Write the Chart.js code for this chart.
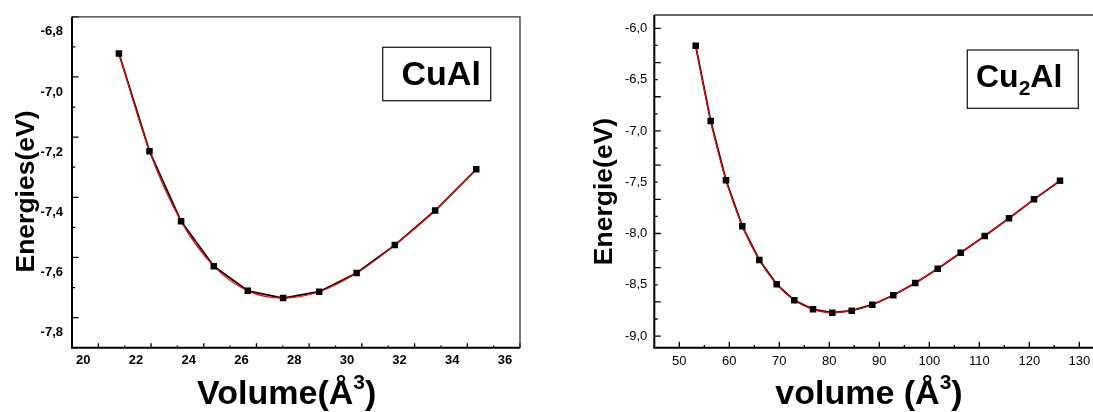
<!DOCTYPE html>
<html>
<head>
<meta charset="utf-8">
<script src="https://cdn.jsdelivr.net/npm/chart.js@4.4.0/dist/chart.umd.min.js"></script>
<style>
  html, body { margin: 0; padding: 0; background: #fff; overflow: hidden; width: 1093px; height: 412px; }
  .panel { position: absolute; top: 0; height: 412px; }
  #left { left: 0; width: 540px; }
  #right { left: 540px; width: 580px; }
</style>
</head>
<body>
<div class="panel" id="left"><canvas id="cual"></canvas></div>
<div class="panel" id="right"><canvas id="cu2al"></canvas></div>
<script>
// CuAl: volume (Å^3) vs energy (eV)
const cuAlVolume = [20.78, 21.94, 23.14, 24.38, 25.67, 27.01, 28.38, 29.80, 31.25, 32.78, 34.34];
const cuAlEnergy = [-6.922, -7.247, -7.480, -7.629, -7.711, -7.735, -7.714, -7.652, -7.559, -7.444, -7.307];
const cuAlXLabels = [20, 22, 24, 26, 28, 30, 32, 34, 36];
const cuAlYLabels = [-6.8, -7.0, -7.2, -7.4, -7.6, -7.8];

// Cu2Al
const cu2AlVolume = [53.28, 56.28, 59.34, 62.60, 66.00, 69.48, 73.00, 76.74, 80.60, 84.48, 88.60, 92.80, 97.20, 101.68, 106.28, 111.08, 115.94, 120.94, 126.14];
const cu2AlEnergy = [-6.170, -6.904, -7.481, -7.930, -8.258, -8.495, -8.651, -8.739, -8.772, -8.752, -8.694, -8.602, -8.482, -8.343, -8.187, -8.024, -7.852, -7.667, -7.485];
const cu2AlXLabels = [50, 60, 70, 80, 90, 100, 110, 120, 130];
const cu2AlYLabels = [-6.0, -6.5, -7.0, -7.5, -8.0, -8.5, -9.0];

const FONT = "'Liberation Sans', Arial, sans-serif";

function hasLabel(list, v) {
  return list.some(l => Math.abs(l - v) < 1e-6);
}

// tick marks k/div for k = from..to (integers), long ones flagged as major
function tickList(from, to, div, isLong) {
  const out = [];
  for (let k = from; k <= to; k++) out.push({value: k / div, major: isLong(k, k / div)});
  return out;
}

function drawParts(ctx, parts, x, y) {
  parts.forEach(p => {
    ctx.font = 'bold ' + p.size + 'px ' + FONT;
    ctx.fillText(p.t, x, y + (p.dy || 0));
    x += ctx.measureText(p.t).width;
  });
}

function partsWidth(ctx, parts) {
  let w = 0;
  parts.forEach(p => {
    ctx.font = 'bold ' + p.size + 'px ' + FONT;
    w += ctx.measureText(p.t).width;
  });
  return w;
}

// frame, inward ticks, titles and the compound label box
const decor = {
  id: 'decor',
  afterDraw(chart, args, o) {
    const ctx = chart.ctx;
    const a = chart.chartArea;
    const x = chart.scales.x, y = chart.scales.y;
    ctx.save();
    ctx.strokeStyle = '#000';
    ctx.lineWidth = 1.3;
    ctx.beginPath();
    x.ticks.forEach(t => {
      const px = x.getPixelForValue(t.value);
      const len = t.major ? o.xTick[0] : o.xTick[1];
      ctx.moveTo(px, a.bottom);
      ctx.lineTo(px, a.bottom - len);
    });
    y.ticks.forEach(t => {
      const py = y.getPixelForValue(t.value);
      const len = t.major ? o.yTick[0] : o.yTick[1];
      ctx.moveTo(a.left, py);
      ctx.lineTo(a.left + len, py);
    });
    ctx.stroke();

    // top/right thin, left/bottom thick
    ctx.strokeStyle = '#333';
    ctx.lineWidth = 1.3;
    ctx.beginPath();
    ctx.moveTo(a.left, a.top);
    ctx.lineTo(a.right, a.top);
    ctx.lineTo(a.right, a.bottom);
    ctx.stroke();
    ctx.strokeStyle = '#000';
    ctx.lineWidth = 2;
    ctx.beginPath();
    ctx.moveTo(a.left, a.top);
    ctx.lineTo(a.left, a.bottom);
    ctx.lineTo(a.right, a.bottom);
    ctx.stroke();

    ctx.fillStyle = '#000';
    // y title
    ctx.save();
    ctx.translate(o.yTitle.x, o.yTitle.y);
    ctx.rotate(-Math.PI / 2);
    ctx.textAlign = 'center';
    ctx.textBaseline = 'alphabetic';
    ctx.font = 'bold ' + o.yTitle.size + 'px ' + FONT;
    ctx.fillText(o.yTitle.text, 0, 0);
    ctx.restore();

    // x title with superscript
    ctx.textAlign = 'left';
    ctx.textBaseline = 'alphabetic';
    const w = partsWidth(ctx, o.xTitle.parts);
    drawParts(ctx, o.xTitle.parts, o.xTitle.x - w / 2, o.xTitle.y);

    // compound box
    const b = o.box;
    ctx.strokeStyle = '#222';
    ctx.lineWidth = 1.3;
    ctx.strokeRect(b.x, b.y, b.w, b.h);
    drawParts(ctx, b.parts, b.tx, b.ty);
    ctx.restore();
  }
};

function panel(id, c) {
  const pts = c.xs.map((v, i) => ({x: v, y: c.ys[i]}));
  const tickFont = {family: FONT, size: 13, weight: c.tickBold ? 'bold' : 'normal'};
  return new Chart(document.getElementById(id), {
    type: 'line',
    data: {
      datasets: [
        {data: pts, showLine: false, pointStyle: 'rect', pointRadius: 4.6,
         pointBackgroundColor: '#000', pointBorderColor: '#000', pointBorderWidth: 0, order: 0},
        {data: pts, borderColor: '#ff0000', borderWidth: 1.2, pointRadius: 0,
         cubicInterpolationMode: 'monotone', order: 1},
        {data: pts, borderColor: '#000', borderWidth: 1.8, pointRadius: 0, tension: 0, order: 2}
      ]
    },
    options: {
      responsive: true,
      maintainAspectRatio: false,
      animation: false,
      devicePixelRatio: 1,
      layout: {padding: c.padding},
      plugins: {
        legend: {display: false},
        tooltip: {enabled: false},
        decor: c.decor
      },
      scales: {
        x: {
          type: 'linear', min: c.xMin, max: c.xMax,
          grid: {display: false, drawTicks: false},
          border: {display: false},
          afterBuildTicks: s => { s.ticks = c.xTicks; },
          ticks: {
            autoSkip: false, maxRotation: 0, padding: c.xPad,
            labelOffset: c.xLabelOffset, color: '#000', font: tickFont,
            callback: v => hasLabel(c.xLabels, v) ? String(Math.round(v)) : ''
          },
          afterFit: s => { s.height = c.xHeight; }
        },
        y: {
          type: 'linear', min: c.yMin, max: c.yMax,
          grid: {display: false, drawTicks: false},
          border: {display: false},
          afterBuildTicks: s => { s.ticks = c.yTicks; },
          ticks: {
            autoSkip: false, padding: c.yPad,
            labelOffset: c.yLabelOffset, color: '#000', font: tickFont,
            callback: v => hasLabel(c.yLabels, v) ? v.toFixed(1).replace('.', ',') : ''
          },
          afterFit: s => { s.width = c.yWidth; }
        }
      }
    },
    plugins: [decor]
  });
}

panel('cual', {
  xs: cuAlVolume, ys: cuAlEnergy, xLabels: cuAlXLabels, yLabels: cuAlYLabels,
  xMin: 19, xMax: 36, yMin: -7.9, yMax: -6.8,
  xTicks: tickList(19, 36, 1, (k, v) => hasLabel(cuAlXLabels, v)),
  yTicks: tickList(-79, -68, 10, (k, v) => hasLabel(cuAlYLabels, v)),
  tickBold: true, xPad: 5, yPad: 9, xLabelOffset: -15, yLabelOffset: 15,
  xHeight: 64.3, yWidth: 72,
  padding: {left: 0, top: 15.7, right: 20, bottom: 0},
  decor: {
    xTick: [4.5, 2.2], yTick: [6.5, 3.3],
    yTitle: {text: 'Energies(eV)', size: 26.5, x: 34, y: 191.5},
    xTitle: {x: 286.7, y: 403.5, parts: [{t: 'Volume(Å', size: 34}, {t: '3', size: 21, dy: -15}, {t: ')', size: 34}]},
    box: {x: 382.7, y: 47.3, w: 108, h: 53.4, tx: 401.5, ty: 85,
          parts: [{t: 'CuAl', size: 34}]}
  }
});

panel('cu2al', {
  xs: cu2AlVolume, ys: cu2AlEnergy, xLabels: cu2AlXLabels, yLabels: cu2AlYLabels,
  xMin: 45, xMax: 135, yMin: -9.113, yMax: -5.870,
  xTicks: tickList(9, 27, 0.2, (k, v) => hasLabel(cu2AlXLabels, v)),
  yTicks: tickList(-54, -36, 6, (k) => k % 2 === 0),
  tickBold: false, xPad: 6, yPad: 7, xLabelOffset: 0, yLabelOffset: 0,
  xHeight: 64.3, yWidth: 114.3,
  padding: {left: 0, top: 15, right: 15.7, bottom: 0},
  decor: {
    xTick: [6, 2.7], yTick: [6.5, 3.3],
    yTitle: {text: 'Energie(eV)', size: 26.5, x: 71.8, y: 191.5},
    xTitle: {x: 329, y: 403.5, parts: [{t: 'volume (Å', size: 34}, {t: '3', size: 21, dy: -15}, {t: ')', size: 34}]},
    box: {x: 427.3, y: 50, w: 111, h: 58.3, tx: 436, ty: 87.3,
          parts: [{t: 'Cu', size: 32}, {t: '2', size: 21, dy: 8}, {t: 'Al', size: 32}]}
  }
});
</script>
</body>
</html>
